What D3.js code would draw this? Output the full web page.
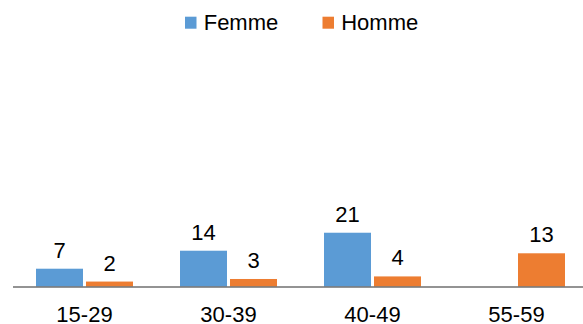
<!DOCTYPE html>
<html><head><meta charset="utf-8">
<script src="https://cdn.jsdelivr.net/npm/d3@7"></script>
<style>body{margin:0;background:#fff;}svg{display:block;font-family:"Liberation Sans",Arial,sans-serif;}</style>
</head><body>
<script>
const categories = ["15-29", "30-39", "40-49", "55-59"];
const seriesNames = ["Femme", "Homme"];
const femme = [7, 14, 21, 0];
const homme = [2, 3, 4, 13];
const colors = ["#5B9BD5", "#ED7D31"];

const W = 583, H = 324;
const svg = d3.select("body").append("svg").attr("width", W).attr("height", H);

const x = d3.scaleBand().domain(categories).range([12.5, 588.5]).paddingInner(0).paddingOuter(0);
const xs = d3.scaleBand().domain(seriesNames).range([23.5, 144 - 23.5]).paddingInner(0.06);
const y = d3.scaleLinear().domain([0, 100]).range([286.7, 29.7]);

const data = categories.map((c, i) => ({cat: c, vals: [femme[i], homme[i]]}));

const g = svg.append("g");
data.forEach(d => {
  d.vals.forEach((v, k) => {
    if (!v) return;
    const bx = x(d.cat) + xs(seriesNames[k]);
    g.append("rect").attr("x", bx).attr("y", y(v)).attr("width", xs.bandwidth())
      .attr("height", y(0) - y(v)).attr("fill", colors[k]);
    g.append("text").attr("x", bx + xs.bandwidth() / 2).attr("y", y(v) - 11)
      .attr("text-anchor", "middle").attr("font-size", 22).attr("fill", "#000").text(v);
  });
});

// axis
const axis = d3.axisBottom(x).tickSize(0).tickPadding(0);
const ag = svg.append("g").attr("transform", `translate(0,${y(0)})`).call(axis);
ag.select(".domain").attr("d", `M13,0.3H583`).attr("stroke", "#6f6f6f").attr("stroke-width", 1.5);
ag.selectAll("text").attr("font-size", 22).attr("fill", "#000").attr("dy", null)
  .attr("y", 35.8).attr("font-family", "Liberation Sans, Arial, sans-serif");

// legend
const leg = svg.append("g");
const legX = [185, 322.5];
seriesNames.forEach((s, k) => {
  leg.append("rect").attr("x", legX[k]).attr("y", 16.7).attr("width", 11.5).attr("height", 12).attr("fill", colors[k]);
  leg.append("text").attr("x", legX[k] + 18.7).attr("y", 30).attr("font-size", 22).attr("fill", "#000").text(s);
});
</script>
</body></html>
